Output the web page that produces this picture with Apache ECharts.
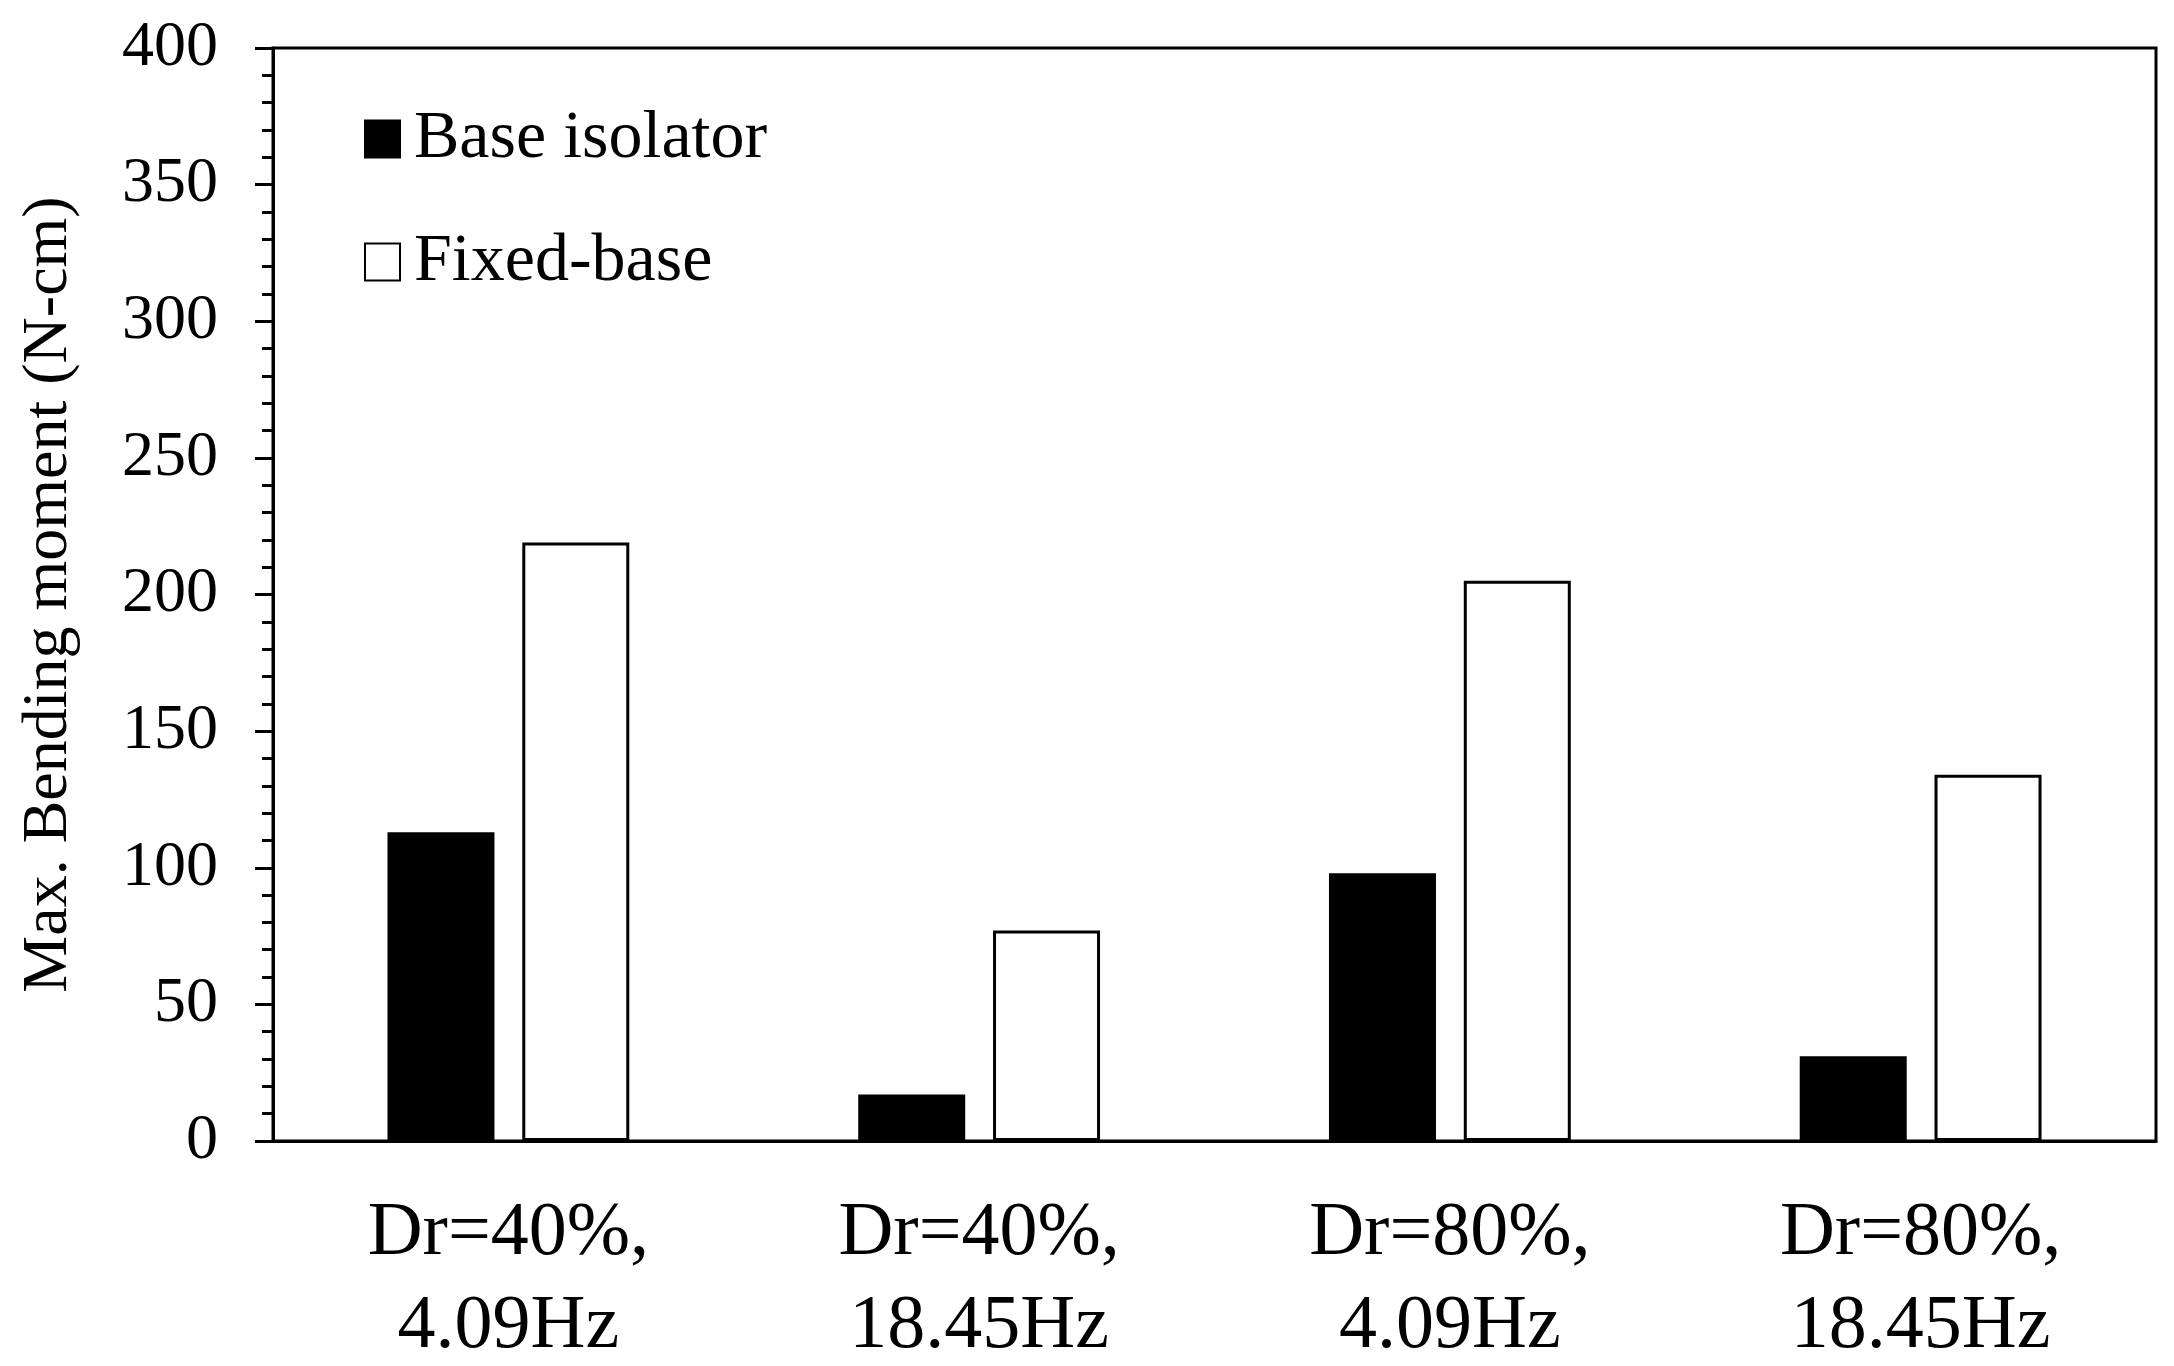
<!DOCTYPE html>
<html>
<head>
<meta charset="utf-8">
<script src="https://cdn.jsdelivr.net/npm/echarts@6/dist/echarts.min.js"></script>
<style>html,body{margin:0;padding:0;background:#fff;}#c{width:2174px;height:1366px;}</style>
</head>
<body>
<div id="c"></div>
<script>
const categories = ['Dr=40%,\n4.09Hz', 'Dr=40%,\n18.45Hz', 'Dr=80%,\n4.09Hz', 'Dr=80%,\n18.45Hz'];
const baseIsolator = [113, 17, 98, 31];
const fixedBase = [219, 77, 205, 134];
const seriesNames = ['Base isolator', 'Fixed-base'];
const yTicks = { min: 0, max: 400, interval: 50 };

const FONT = 'Liberation Serif';
const chart = echarts.init(document.getElementById('c'), null, { renderer: 'canvas' });
chart.setOption({
  animation: false,
  backgroundColor: '#fff',
  grid: { left: 273, right: 18, top: 48, bottom: 225, containLabel: false, outerBoundsMode: 'none',
          show: true, borderColor: '#000', borderWidth: 3, backgroundColor: 'transparent' },
  legend: {
    orient: 'vertical', left: 359, top: 100,
    itemWidth: 35, itemHeight: 37, itemGap: 55,
    icon: 'rect',
    data: seriesNames,
    textStyle: { fontFamily: FONT, fontSize: 68, color: '#000', lineHeight: 37, padding: [0, 0, 0, 9] }
  },
  xAxis: {
    type: 'category', data: categories,
    axisLine: { lineStyle: { color: '#000', width: 3 } },
    axisTick: { show: false },
    axisLabel: { fontFamily: FONT, fontSize: 76, lineHeight: 93, color: '#000', margin: 47 }
  },
  yAxis: {
    type: 'value', min: yTicks.min, max: yTicks.max, interval: yTicks.interval,
    name: 'Max. Bending moment (N-cm)', nameLocation: 'middle', nameGap: 192,
    nameTextStyle: { fontFamily: FONT, fontSize: 64, color: '#000' },
    axisLine: { show: true, lineStyle: { color: '#000', width: 3 } },
    axisTick: { show: true, length: 18, lineStyle: { color: '#000', width: 3 } },
    minorTick: { show: true, splitNumber: 5, length: 11, lineStyle: { color: '#000', width: 3 } },
    splitLine: { show: false },
    axisLabel: { fontFamily: FONT, fontSize: 64, color: '#000', margin: 55 }
  },
  series: [
    { name: seriesNames[0], type: 'bar', data: baseIsolator, barWidth: 107, barGap: '26%',
      itemStyle: { color: '#000', borderColor: '#000', borderWidth: 2 } },
    { name: seriesNames[1], type: 'bar', data: fixedBase, barWidth: 107, barGap: '26%',
      itemStyle: { color: '#fff', borderColor: '#000', borderWidth: 3 } }
  ]
});
</script>
</body>
</html>
